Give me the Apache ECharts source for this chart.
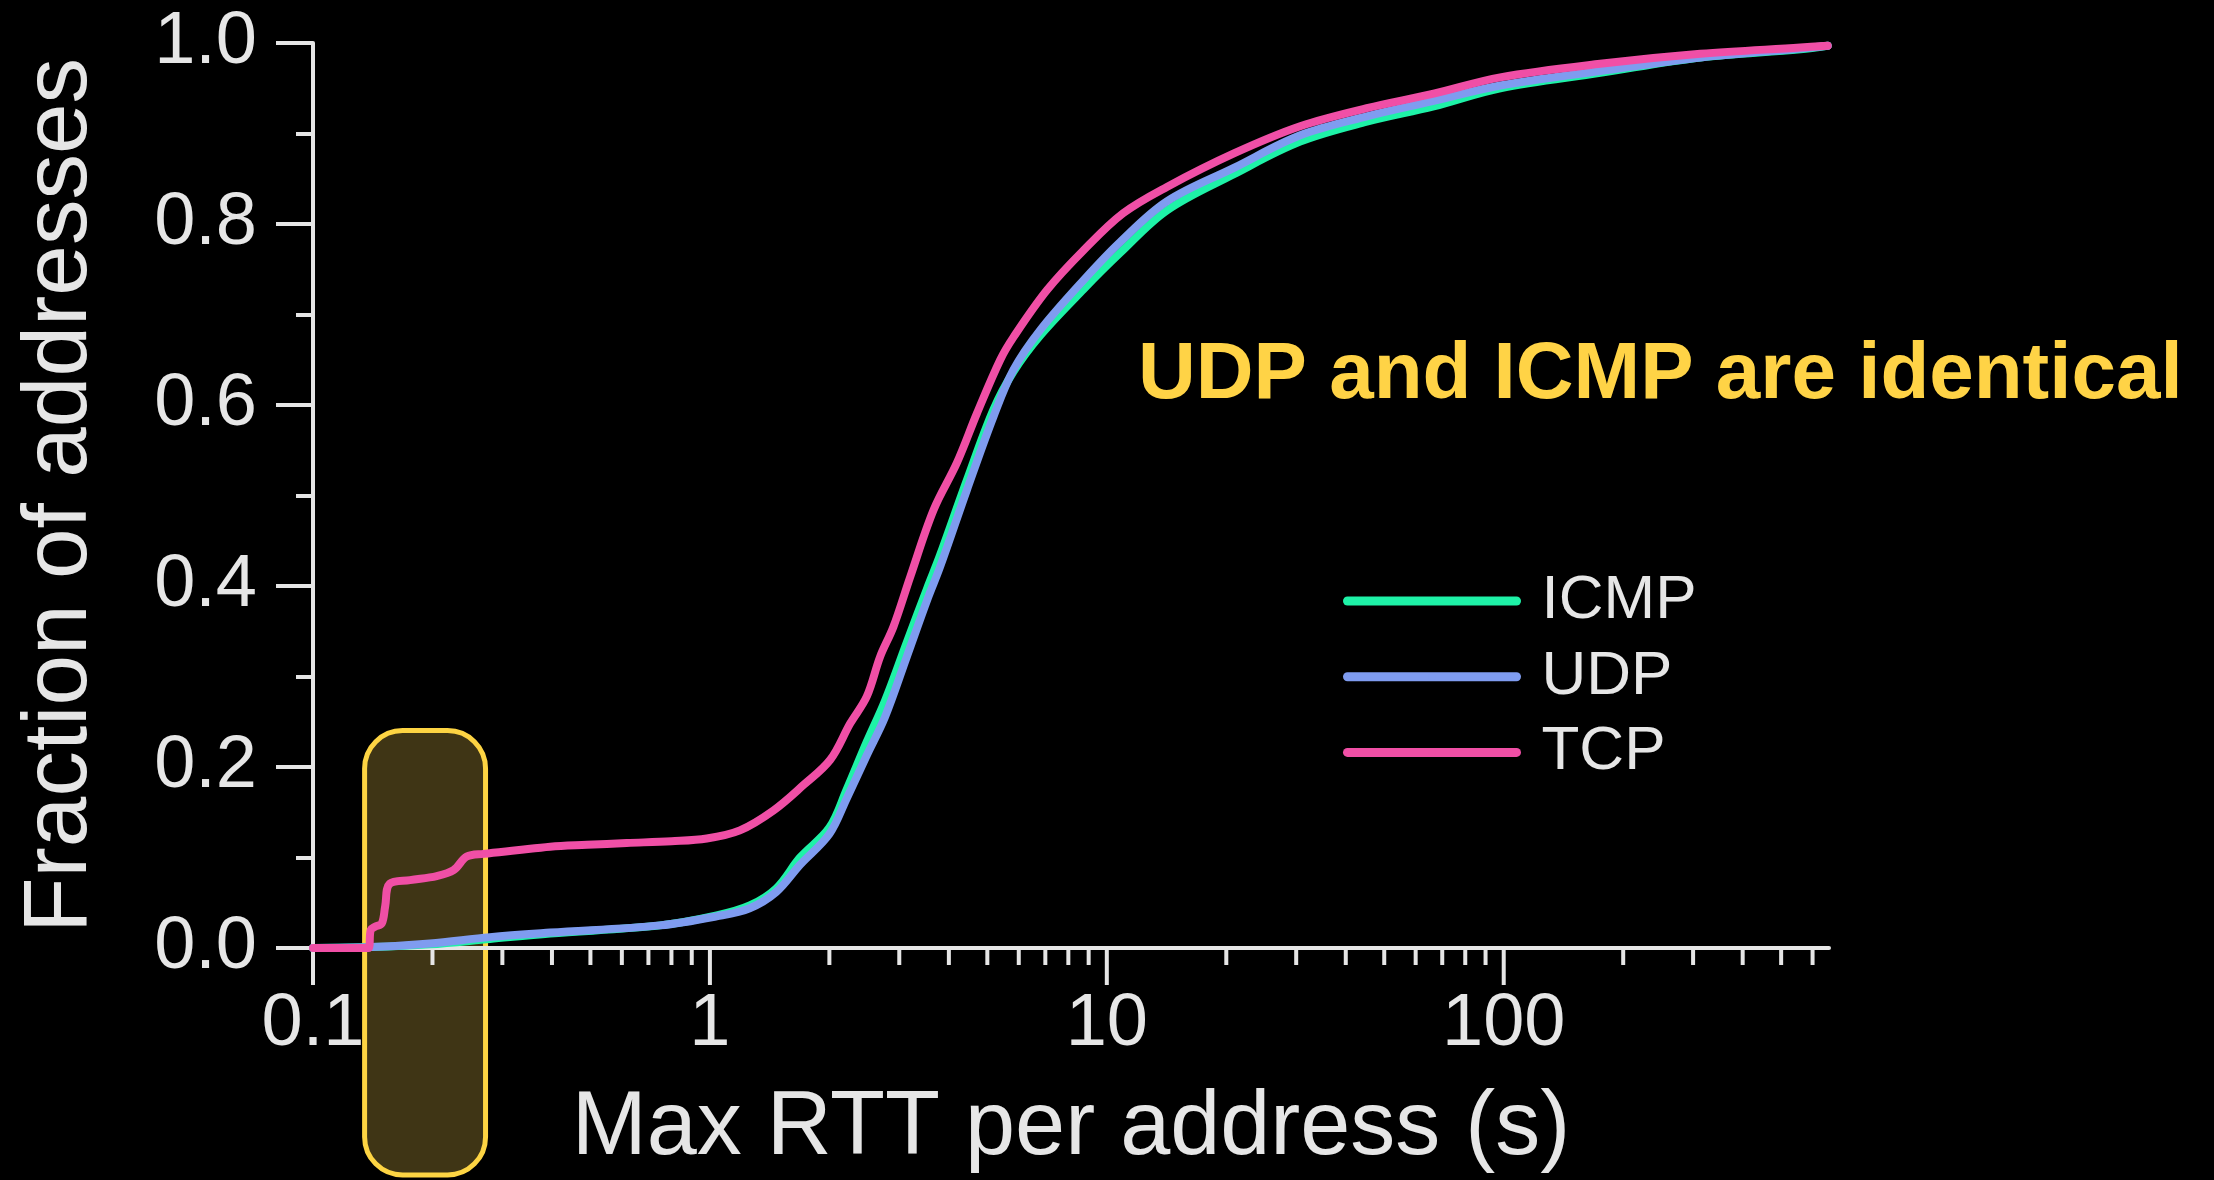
<!DOCTYPE html>
<html>
<head>
<meta charset="utf-8">
<script src="https://cdn.jsdelivr.net/npm/echarts@6/dist/echarts.min.js"></script>
<style>
html,body{margin:0;padding:0;background:#000;}
#chart{width:2214px;height:1180px;}
</style>
</head>
<body>
<div id="chart"></div>
<script>
// ---------- data ----------
const seriesNames = ['ICMP', 'UDP', 'TCP'];

const icmpX = [0.1, 0.14, 0.197, 0.279, 0.396, 0.749, 1.04, 1.26, 1.47, 1.687, 2.0, 2.21, 2.485, 2.76, 3.135, 3.53, 3.80, 4.44, 5.18, 5.82, 6.8, 8.74, 10.8, 14.17, 20.9, 30.7, 45.2, 66.6, 98, 175, 313, 559, 655];
const icmpY = [0, 0.001, 0.004, 0.010, 0.016, 0.025, 0.036, 0.047, 0.066, 0.100, 0.133, 0.175, 0.228, 0.273, 0.338, 0.398, 0.434, 0.517, 0.595, 0.637, 0.677, 0.728, 0.768, 0.815, 0.855, 0.891, 0.913, 0.930, 0.950, 0.967, 0.984, 0.993, 0.997];

const udpX = [0.1, 0.14, 0.197, 0.279, 0.396, 0.749, 1.04, 1.26, 1.47, 1.687, 2.0, 2.21, 2.485, 2.76, 3.135, 3.53, 3.80, 4.44, 5.18, 5.82, 6.8, 8.74, 10.8, 14.17, 20.9, 30.7, 45.2, 66.6, 98, 175, 313, 559, 655];
const udpY = [0, 0.001, 0.005, 0.012, 0.017, 0.025, 0.035, 0.044, 0.062, 0.092, 0.126, 0.165, 0.213, 0.255, 0.322, 0.385, 0.421, 0.506, 0.587, 0.639, 0.683, 0.738, 0.780, 0.825, 0.862, 0.898, 0.919, 0.936, 0.953, 0.969, 0.984, 0.994, 0.997];

const tcpX = [0.1, 0.1378, 0.1398, 0.1433, 0.149, 0.152, 0.156, 0.1756, 0.205, 0.226, 0.244, 0.269, 0.326, 0.396, 0.49, 0.617, 0.80, 0.982, 1.19, 1.446, 1.72, 2.01, 2.256, 2.485, 2.685, 2.90, 3.196, 3.66, 4.19, 4.71, 5.39, 5.82, 7.07, 8.74, 11.0, 14.17, 20.9, 30.7, 45.2, 66.6, 98, 175, 313, 559, 655];
const tcpY = [0, 0, 0.020, 0.0235, 0.027, 0.046, 0.071, 0.075, 0.0795, 0.086, 0.101, 0.104, 0.108, 0.112, 0.114, 0.116, 0.118, 0.121, 0.130, 0.152, 0.180, 0.208, 0.248, 0.278, 0.322, 0.355, 0.410, 0.484, 0.536, 0.591, 0.650, 0.675, 0.727, 0.771, 0.812, 0.841, 0.878, 0.908, 0.928, 0.944, 0.962, 0.977, 0.988, 0.995, 0.997];

const xMajorTicks = [0.1, 1, 10, 100];
const xTickLabels = ['0.1', '1', '10', '100'];
const xMinorTicks = [0.2, 0.3, 0.4, 0.5, 0.6, 0.7, 0.8, 0.9, 2, 3, 4, 5, 6, 7, 8, 9, 20, 30, 40, 50, 60, 70, 80, 90, 200, 300, 400, 500, 600];
const xRange = [0.1, 660];
const yRange = [0, 1];
const yTickStep = 0.2;

// highlighted band (data units: x from..to, y from..to)
const highlightBand = [0.1349, 0.2721, -0.2508, 0.2403];

const annotationText = 'UDP and ICMP are identical';
const xTitle = 'Max RTT per address (s)';
const yTitle = 'Fraction of addresses';

// ---------- styling ----------
const FONT = '"Liberation Sans", Arial, Helvetica, sans-serif';
const AXIS_COLOR = '#e6e6e6';
const colors = { ICMP: '#1ef2a7', UDP: '#7f9cf0', TCP: '#f04fa6' };

function zip(xs, ys) { return xs.map((x, i) => [x, ys[i]]); }

const lineSeries = [
  { name: 'ICMP', data: zip(icmpX, icmpY) },
  { name: 'UDP', data: zip(udpX, udpY) },
  { name: 'TCP', data: zip(tcpX, tcpY) }
].map(s => ({
  type: 'line',
  name: s.name,
  data: s.data,
  showSymbol: false,
  symbol: 'none',
  smooth: 0.35,
  z: 5,
  color: colors[s.name],
  lineStyle: { width: 8, color: colors[s.name], cap: 'round', join: 'round' },
  emphasis: { disabled: true }
}));

const tickData = xMajorTicks.map(v => [v, 0, 1]).concat(xMinorTicks.map(v => [v, 0, 0]));

const chart = echarts.init(document.getElementById('chart'), null, { renderer: 'canvas' });
chart.setOption({
  backgroundColor: '#000',
  animation: false,
  grid: { left: 313, right: 385, top: 43, bottom: 232, containLabel: false },
  xAxis: {
    type: 'log', logBase: 10, min: xRange[0], max: xRange[1], z: 3,
    axisLine: { show: true, lineStyle: { color: AXIS_COLOR, width: 4 } },
    axisTick: { show: false },
    minorTick: { show: false },
    splitLine: { show: false },
    axisLabel: {
      color: AXIS_COLOR, fontSize: 74, fontFamily: FONT, margin: 40,
      formatter: function (v) {
        for (let i = 0; i < xMajorTicks.length; i++) {
          if (Math.abs(v - xMajorTicks[i]) / xMajorTicks[i] < 1e-6) return xTickLabels[i];
        }
        return '';
      }
    },
    name: xTitle, nameLocation: 'middle', nameGap: 136,
    nameTextStyle: { color: AXIS_COLOR, fontSize: 90, fontFamily: FONT }
  },
  yAxis: {
    type: 'value', min: yRange[0], max: yRange[1], interval: yTickStep, z: 3,
    axisLine: { show: true, lineStyle: { color: AXIS_COLOR, width: 4 } },
    axisTick: { show: true, inside: false, length: 37, lineStyle: { color: AXIS_COLOR, width: 4 } },
    minorTick: { show: true, splitNumber: 2, length: 17, lineStyle: { color: AXIS_COLOR, width: 4 } },
    splitLine: { show: false },
    axisLabel: {
      color: AXIS_COLOR, fontSize: 74, fontFamily: FONT, margin: 56,
      formatter: v => v.toFixed(1)
    },
    name: yTitle, nameLocation: 'middle', nameGap: 207,
    nameTextStyle: { color: AXIS_COLOR, fontSize: 91, fontFamily: FONT }
  },
  legend: {
    data: seriesNames,
    orient: 'vertical',
    left: 1343, top: 570, padding: 0,
    itemWidth: 169, itemHeight: 9, itemGap: 13.7,
    selectedMode: false,
    lineStyle: { width: 9, cap: 'round' },
    textStyle: { color: AXIS_COLOR, fontSize: 62, fontFamily: FONT, lineHeight: 62, padding: [0, 0, 0, 20] }
  },
  graphic: [{
    type: 'text', z: 10,
    style: {
      text: annotationText, x: 1138, y: 376,
      font: 'bold 80px ' + FONT, fill: '#ffd346',
      align: 'left', verticalAlign: 'middle'
    }
  }],
  series: [
    {
      type: 'custom', name: 'highlight', z: 1, clip: false, silent: true,
      data: [highlightBand],
      encode: { x: [0, 1], y: [2, 3] },
      renderItem: function (params, api) {
        const p0 = api.coord([api.value(0), api.value(3)]);
        const p1 = api.coord([api.value(1), api.value(2)]);
        return {
          type: 'rect',
          shape: { x: p0[0], y: p0[1], width: p1[0] - p0[0], height: p1[1] - p0[1], r: 38 },
          style: { fill: '#3f3515', stroke: '#fdd443', lineWidth: 5 }
        };
      }
    },
    {
      type: 'custom', name: 'xticks', z: 4, clip: false, silent: true,
      data: tickData,
      encode: { x: 0, y: 1 },
      renderItem: function (params, api) {
        const p = api.coord([api.value(0), api.value(1)]);
        const len = api.value(2) === 1 ? 37 : 17;
        return {
          type: 'line',
          shape: { x1: p[0], y1: p[1], x2: p[0], y2: p[1] + len },
          style: { stroke: AXIS_COLOR, lineWidth: 4 }
        };
      }
    }
  ].concat(lineSeries)
});
</script>
</body>
</html>
